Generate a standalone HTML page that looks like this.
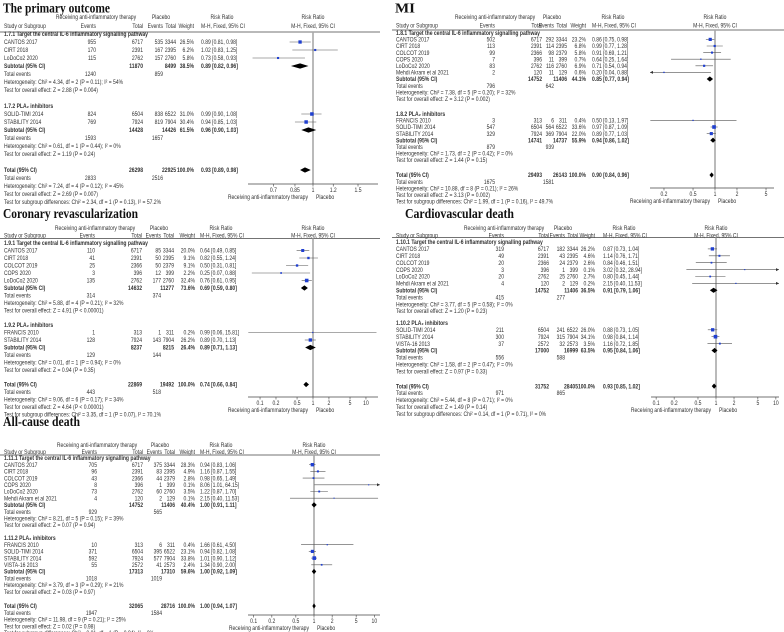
<!DOCTYPE html>
<html><head><meta charset="utf-8">
<style>
html,body{margin:0;padding:0;background:#fff;}
svg{display:block;}
text{font-family:"Liberation Sans",sans-serif;fill:#333;}
.ttl{font-family:"Liberation Serif",serif;font-weight:bold;fill:#111;}
</style></head>
<body>
<svg id="fig" width="784" height="632" viewBox="0 0 784 632" xmlns="http://www.w3.org/2000/svg"></svg>
<script>
// ===== Primary outcome =====
const P1_groups=["1.7.1 Target the central IL-6 inflammatory signalling pathway","1.7.2 PLA₂ inhibitors"];
const P1_names=["CANTOS 2017","CIRT 2018","LoDoCo2 2020","SOLID-TIMI 2014","STABILITY 2014"];
const P1_grp=[0,0,0,1,1];
const P1_evT=[955,170,115,824,769];
const P1_nT=[6717,2391,2762,6504,7924];
const P1_evC=[535,167,157,838,819];
const P1_nC=[3344,2395,2760,6522,7904];
const P1_w=[26.5,6.2,5.8,31.0,30.4];
const P1_rr=[0.89,1.02,0.73,0.99,0.94];
const P1_lo=[0.81,0.83,0.58,0.90,0.85];
const P1_hi=[0.98,1.25,0.93,1.08,1.03];
const P1_sumNT=[11870,14428,26298];
const P1_sumNC=[8499,14426,22925];
const P1_sumEvT=[1240,1593,2833];
const P1_sumEvC=[859,1657,2516];
const P1_sumW=[38.5,61.5,100.0];
const P1_sumRR=[0.89,0.96,0.93];
const P1_sumLo=[0.82,0.90,0.89];
const P1_sumHi=[0.96,1.03,0.98];
const P1_het=["Chi² = 4.34, df = 2 (P = 0.11); I² = 54%","Chi² = 0.61, df = 1 (P = 0.44); I² = 0%","Chi² = 7.24, df = 4 (P = 0.12); I² = 45%"];
const P1_z=["Z = 2.88 (P = 0.004)","Z = 1.19 (P = 0.24)","Z = 2.69 (P = 0.007)"];
const P1_tsd="Chi² = 2.34, df = 1 (P = 0.13), I² = 57.2%";
const P1_ticks=["0.7","0.85","1","1.2","1.5"];

// ===== MI =====
const P2_groups=["1.8.1 Target the central IL-6 inflammatory signalling pathway","1.8.2 PLA₂ inhibitors"];
const P2_names=["CANTOS 2017","CIRT 2018","COLCOT 2019","COPS 2020","LoDoCo2 2020","Mehdi Akram et al 2021","FRANCIS 2010","SOLID-TIMI 2014","STABILITY 2014"];
const P2_grp=[0,0,0,0,0,0,1,1,1];
const P2_evT=[502,113,99,7,83,2,3,547,329];
const P2_nT=[6717,2391,2366,396,2762,120,313,6504,7924];
const P2_evC=[292,114,98,11,116,11,6,564,369];
const P2_nC=[3344,2395,2379,399,2760,129,311,6522,7904];
const P2_w=[23.2,6.8,5.8,0.7,6.9,0.6,0.4,33.6,22.0];
const P2_rr=[0.86,0.99,0.91,0.64,0.71,0.20,0.50,0.97,0.89];
const P2_lo=[0.75,0.77,0.69,0.25,0.54,0.04,0.13,0.87,0.77];
const P2_hi=[0.98,1.28,1.21,1.64,0.94,0.88,1.97,1.09,1.03];
const P2_sumNT=[14752,14741,29493];
const P2_sumNC=[11406,14737,26143];
const P2_sumEvT=[796,879,1675];
const P2_sumEvC=[642,939,1581];
const P2_sumW=[44.1,55.9,100.0];
const P2_sumRR=[0.85,0.94,0.90];
const P2_sumLo=[0.77,0.86,0.84];
const P2_sumHi=[0.94,1.02,0.96];
const P2_het=["Chi² = 7.38, df = 5 (P = 0.20); I² = 32%","Chi² = 1.73, df = 2 (P = 0.42); I² = 0%","Chi² = 10.88, df = 8 (P = 0.21); I² = 26%"];
const P2_z=["Z = 3.12 (P = 0.002)","Z = 1.44 (P = 0.15)","Z = 3.13 (P = 0.002)"];
const P2_tsd="Chi² = 1.99, df = 1 (P = 0.16), I² = 49.7%";
const P2_ticks=["0.2","0.5","1","2","5"];

// ===== Coronary revascularization =====
const P3_groups=["1.9.1 Target the central IL-6 inflammatory signalling pathway","1.9.2 PLA₂ inhibitors"];
const P3_names=["CANTOS 2017","CIRT 2018","COLCOT 2019","COPS 2020","LoDoCo2 2020","FRANCIS 2010","STABILITY 2014"];
const P3_grp=[0,0,0,0,0,1,1];
const P3_evT=[110,41,25,3,135,1,128];
const P3_nT=[6717,2391,2366,396,2762,313,7924];
const P3_evC=[85,50,50,12,177,1,143];
const P3_nC=[3344,2395,2379,399,2760,311,7904];
const P3_w=[20.0,9.1,9.1,2.2,32.4,0.2,26.2];
const P3_rr=[0.64,0.82,0.50,0.25,0.76,0.99,0.89];
const P3_lo=[0.49,0.55,0.31,0.07,0.61,0.06,0.70];
const P3_hi=[0.85,1.24,0.81,0.88,0.95,15.81,1.13];
const P3_sumNT=[14632,8237,22869];
const P3_sumNC=[11277,8215,19492];
const P3_sumEvT=[314,129,443];
const P3_sumEvC=[374,144,518];
const P3_sumW=[73.6,26.4,100.0];
const P3_sumRR=[0.69,0.89,0.74];
const P3_sumLo=[0.59,0.71,0.66];
const P3_sumHi=[0.80,1.13,0.84];
const P3_het=["Chi² = 5.88, df = 4 (P = 0.21); I² = 32%","Chi² = 0.01, df = 1 (P = 0.94); I² = 0%","Chi² = 9.06, df = 6 (P = 0.17); I² = 34%"];
const P3_z=["Z = 4.91 (P < 0.00001)","Z = 0.94 (P = 0.35)","Z = 4.64 (P < 0.00001)"];
const P3_tsd="Chi² = 3.35, df = 1 (P = 0.07), I² = 70.1%";
const P3_ticks=["0.1","0.2","0.5","1","2","5","10"];

// ===== Cardiovascular death =====
const P4_groups=["1.10.1 Target the central IL-6 inflammatory signalling pathway","1.10.2 PLA₂ inhibitors"];
const P4_names=["CANTOS 2017","CIRT 2018","COLCOT 2019","COPS 2020","LoDoCo2 2020","Mehdi Akram et al 2021","SOLID-TIMI 2014","STABILITY 2014","VISTA-16 2013"];
const P4_grp=[0,0,0,0,0,0,1,1,1];
const P4_evT=[319,49,20,3,20,4,211,300,37];
const P4_nT=[6717,2391,2366,396,2762,120,6504,7924,2572];
const P4_evC=[182,43,24,1,25,2,241,315,32];
const P4_nC=[3344,2395,2379,399,2760,129,6522,7904,2573];
const P4_w=[26.2,4.6,2.6,0.1,2.7,0.2,26.0,34.1,3.5];
const P4_rr=[0.87,1.14,0.84,3.02,0.80,2.15,0.88,0.98,1.16];
const P4_lo=[0.73,0.76,0.46,0.32,0.45,0.40,0.73,0.84,0.72];
const P4_hi=[1.04,1.71,1.51,28.94,1.44,11.53,1.05,1.14,1.85];
const P4_sumNT=[14752,17000,31752];
const P4_sumNC=[11406,16999,28405];
const P4_sumEvT=[415,556,971];
const P4_sumEvC=[277,588,865];
const P4_sumW=[36.5,63.5,100.0];
const P4_sumRR=[0.91,0.95,0.93];
const P4_sumLo=[0.79,0.84,0.85];
const P4_sumHi=[1.06,1.06,1.02];
const P4_het=["Chi² = 3.77, df = 5 (P = 0.58); I² = 0%","Chi² = 1.58, df = 2 (P = 0.47); I² = 0%","Chi² = 5.44, df = 8 (P = 0.71); I² = 0%"];
const P4_z=["Z = 1.20 (P = 0.23)","Z = 0.97 (P = 0.33)","Z = 1.49 (P = 0.14)"];
const P4_tsd="Chi² = 0.14, df = 1 (P = 0.71), I² = 0%";
const P4_ticks=["0.1","0.2","0.5","1","2","5","10"];

// ===== All-cause death =====
const P5_groups=["1.11.1 Target the central IL-6 inflammatory signalling pathway","1.11.2 PLA₂ inhibitors"];
const P5_names=["CANTOS 2017","CIRT 2018","COLCOT 2019","COPS 2020","LoDoCo2 2020","Mehdi Akram et al 2021","FRANCIS 2010","SOLID-TIMI 2014","STABILITY 2014","VISTA-16 2013"];
const P5_grp=[0,0,0,0,0,0,1,1,1,1];
const P5_evT=[705,96,43,8,73,4,10,371,592,55];
const P5_nT=[6717,2391,2366,396,2762,120,313,6504,7924,2572];
const P5_evC=[375,83,44,1,60,2,6,395,577,41];
const P5_nC=[3344,2395,2379,399,2760,129,311,6522,7904,2573];
const P5_w=[28.3,4.9,2.8,0.1,3.5,0.1,0.4,23.1,33.8,2.4];
const P5_rr=[0.94,1.16,0.98,8.06,1.22,2.15,1.66,0.94,1.01,1.34];
const P5_lo=[0.83,0.87,0.65,1.01,0.87,0.40,0.61,0.82,0.90,0.90];
const P5_hi=[1.06,1.55,1.49,64.15,1.70,11.53,4.50,1.08,1.12,2.00];
const P5_sumNT=[14752,17313,32065];
const P5_sumNC=[11406,17310,28716];
const P5_sumEvT=[929,1018,1947];
const P5_sumEvC=[565,1019,1584];
const P5_sumW=[40.4,59.6,100.0];
const P5_sumRR=[1.00,1.00,1.00];
const P5_sumLo=[0.91,0.92,0.94];
const P5_sumHi=[1.11,1.09,1.07];
const P5_het=["Chi² = 8.21, df = 5 (P = 0.15); I² = 39%","Chi² = 3.79, df = 3 (P = 0.29); I² = 21%","Chi² = 11.98, df = 9 (P = 0.21); I² = 25%"];
const P5_z=["Z = 0.07 (P = 0.94)","Z = 0.03 (P = 0.97)","Z = 0.02 (P = 0.98)"];
const P5_tsd="Chi² = 0.01, df = 1 (P = 0.94), I² = 0%";
const P5_ticks=["0.1","0.2","0.5","1","2","5","10"];

const NS="http://www.w3.org/2000/svg";
const svg=document.getElementById('fig');
function mk(tag,attrs,parent){const e=document.createElementNS(NS,tag);for(const k in attrs)e.setAttribute(k,attrs[k]);(parent||svg).appendChild(e);return e;}
function tx(g,x,y,s,anchor,bold,name){
  const e=mk('text',{transform:`translate(${x},${(y+2.2).toFixed(2)}) scale(0.8,1)`,'font-size':'6.3','text-anchor':anchor||'start'},g);
  if(bold)e.setAttribute('font-weight','bold');
  e.textContent=s;
  
  
  return e;
}
function f2(v){return v.toFixed(2);}
function ci(r,l,h){return f2(r)+" ["+f2(l)+", "+f2(h)+"]";}

function render(D,L,pname){
  const g=mk('g',{});
  
  
  const t=mk('text',{x:L.tx,y:L.ty,class:'ttl','font-size':'14',textLength:L.tw,lengthAdjust:'spacingAndGlyphs'},g);
  t.textContent=L.title;
  
  
  const C=L.cols;
  const xs=v=>L.xref+Math.log(v)*L.k;
  tx(g,C.evT,L.h1,"Receiving anti-inflammatory therapy",'middle',false,'header-treatment');
  tx(g,C.evC-2,L.h1,"Placebo",'middle',false,'header-placebo');
  tx(g,C.rr+21,L.h1,"Risk Ratio",'middle',false,'header-risk-ratio');
  tx(g,L.xref,L.h1,"Risk Ratio",'middle',false,'plot-header-risk-ratio');
  tx(g,C.st,L.h2,"Study or Subgroup",'start',false,'header-study');
  tx(g,C.evT,L.h2,"Events",'end'); tx(g,C.nT,L.h2,"Total",'end');
  tx(g,C.evC,L.h2,"Events",'end'); tx(g,C.nC,L.h2,"Total",'end');
  tx(g,C.w,L.h2,"Weight",'end'); tx(g,C.rr,L.h2,"M-H, Fixed, 95% CI",'start');
  tx(g,L.xref,L.h2,"M-H, Fixed, 95% CI",'middle');
  mk('line',{x1:L.lx1,x2:L.lx2,y1:L.line,y2:L.line,stroke:'#444','stroke-width':0.8},g);
  const ref=mk('line',{x1:L.xref,x2:L.xref,y1:L.line,y2:L.axisY,stroke:'#a8a8a8','stroke-width':1.6},g);
  
  
  const xmin=L.x1, xmax=L.x2;
  function studyMark(y,r,l,h,w){
    let a=xs(l),b=xs(h);
    const ca=Math.max(a,xmin),cb=Math.min(b,xmax);
    const ln=mk('line',{x1:ca,x2:cb,y1:y,y2:y,stroke:'#555','stroke-width':0.6},g);
    
    
    if(a<xmin) mk('polygon',{points:`${xmin},${y} ${xmin+3},${y-1.5} ${xmin+3},${y+1.5}`,fill:'#333'},g);
    if(b>xmax) mk('polygon',{points:`${xmax},${y} ${xmax-3},${y-1.5} ${xmax-3},${y+1.5}`,fill:'#333'},g);
    const s=1+Math.sqrt(w)*0.45, cx=xs(r);
    if(cx>=xmin&&cx<=xmax){
      const sq=mk('rect',{x:cx-s/2,y:y-s/2,width:s,height:s,fill:'#1f3fd0'},g);
      
      
    }
  }
  function diamond(y,r,l,h){
    const d=mk('polygon',{points:`${xs(l)},${y} ${xs(r)},${y-2.6} ${xs(h)},${y} ${xs(r)},${y+2.6}`,fill:'#000'},g);
    
    
  }
  let y=L.y0;
  for(let gi=0;gi<2;gi++){
    tx(g,C.st,y,D.groups[gi],'start',true,'subgroup-title'); y+=L.dy;
    for(let i=0;i<D.names.length;i++){ if(D.grp[i]!==gi)continue;
      tx(g,C.st,y,D.names[i],'start',false,'study-name');
      tx(g,C.evT,y,String(D.evT[i]),'end'); tx(g,C.nT,y,String(D.nT[i]),'end');
      tx(g,C.evC,y,String(D.evC[i]),'end'); tx(g,C.nC,y,String(D.nC[i]),'end');
      tx(g,C.w,y,D.w[i].toFixed(1)+"%",'end'); tx(g,C.rr,y,ci(D.rr[i],D.lo[i],D.hi[i]),'start');
      studyMark(y,D.rr[i],D.lo[i],D.hi[i],D.w[i]);
      y+=L.dy;
    }
    tx(g,C.st,y,"Subtotal (95% CI)",'start',true,'subtotal-label');
    tx(g,C.nT,y,String(D.sumNT[gi]),'end',true); tx(g,C.nC,y,String(D.sumNC[gi]),'end',true);
    tx(g,C.w,y,D.sumW[gi].toFixed(1)+"%",'end',true); tx(g,C.rr,y,ci(D.sumRR[gi],D.sumLo[gi],D.sumHi[gi]),'start',true);
    diamond(y,D.sumRR[gi],D.sumLo[gi],D.sumHi[gi]); y+=L.dy;
    tx(g,C.st,y,"Total events"); tx(g,C.evT,y,String(D.sumEvT[gi]),'end'); tx(g,C.evC,y,String(D.sumEvC[gi]),'end'); y+=L.dy;
    tx(g,C.st,y,"Heterogeneity: "+D.het[gi]); y+=L.dy;
    tx(g,C.st,y,"Test for overall effect: "+D.z[gi]); y+=L.dy;
    y+=L.blank[gi];
  }
  tx(g,C.st,y,"Total (95% CI)",'start',true,'total-label');
  tx(g,C.nT,y,String(D.sumNT[2]),'end',true); tx(g,C.nC,y,String(D.sumNC[2]),'end',true);
  tx(g,C.w,y,D.sumW[2].toFixed(1)+"%",'end',true); tx(g,C.rr,y,ci(D.sumRR[2],D.sumLo[2],D.sumHi[2]),'start',true);
  diamond(y,D.sumRR[2],D.sumLo[2],D.sumHi[2]); y+=L.dy;
  tx(g,C.st,y,"Total events"); tx(g,C.evT,y,String(D.sumEvT[2]),'end'); tx(g,C.evC,y,String(D.sumEvC[2]),'end'); y+=L.dy;
  tx(g,C.st,y,"Heterogeneity: "+D.het[2]); y+=L.dy;
  tx(g,C.st,y,"Test for overall effect: "+D.z[2]); y+=L.dy;
  tx(g,C.st,y,"Test for subgroup differences: "+D.tsd);
  const ax=mk('line',{x1:L.x1,x2:L.x2,y1:L.axisY,y2:L.axisY,stroke:'#444','stroke-width':0.7},g);
  
  
  D.ticks.forEach(tk=>{const x=xs(parseFloat(tk));
    mk('line',{x1:x,x2:x,y1:L.axisY,y2:L.axisY+2.5,stroke:'#444','stroke-width':0.6},g);
    tx(g,x,L.axisY+6,tk,'middle',false,'x-tick-label');});
  tx(g,L.xref-5,L.axisY+13,"Receiving anti-inflammatory therapy",'end',false,'axis-caption-left');
  tx(g,L.xref+3,L.axisY+13,"Placebo",'start',false,'axis-caption-right');
}

function pd(p){return {groups:p[0],names:p[1],grp:p[2],evT:p[3],nT:p[4],evC:p[5],nC:p[6],w:p[7],rr:p[8],lo:p[9],hi:p[10],
  sumNT:p[11],sumNC:p[12],sumEvT:p[13],sumEvC:p[14],sumW:p[15],sumRR:p[16],sumLo:p[17],sumHi:p[18],het:p[19],z:p[20],tsd:p[21],ticks:p[22]};}

render(pd([P1_groups,P1_names,P1_grp,P1_evT,P1_nT,P1_evC,P1_nC,P1_w,P1_rr,P1_lo,P1_hi,P1_sumNT,P1_sumNC,P1_sumEvT,P1_sumEvC,P1_sumW,P1_sumRR,P1_sumLo,P1_sumHi,P1_het,P1_z,P1_tsd,P1_ticks]),
 {title:"The primary outcome",tx:3,ty:12.5,tw:107,h1:17,h2:26,line:32,y0:34,dy:8,blank:[8,8],
  cols:{st:4,evT:96,nT:143,evC:163,nC:176,w:194,rr:201},x1:248,x2:378,xref:313,k:111,axisY:184,lx1:0,lx2:380},'panel-primary-outcome');

render(pd([P2_groups,P2_names,P2_grp,P2_evT,P2_nT,P2_evC,P2_nC,P2_w,P2_rr,P2_lo,P2_hi,P2_sumNT,P2_sumNC,P2_sumEvT,P2_sumEvC,P2_sumW,P2_sumRR,P2_sumLo,P2_sumHi,P2_het,P2_z,P2_tsd,P2_ticks]),
 {title:"MI",tx:395,ty:12.5,tw:20,h1:17,h2:25.5,line:30,y0:32.8,dy:6.6,blank:[8.4,8.4],
  cols:{st:396,evT:495,nT:542,evC:554,nC:567,w:586,rr:592},x1:650,x2:774,xref:715,k:31.7,axisY:188,lx1:392,lx2:784},'panel-mi');

render(pd([P3_groups,P3_names,P3_grp,P3_evT,P3_nT,P3_evC,P3_nC,P3_w,P3_rr,P3_lo,P3_hi,P3_sumNT,P3_sumNC,P3_sumEvT,P3_sumEvC,P3_sumW,P3_sumRR,P3_sumLo,P3_sumHi,P3_het,P3_z,P3_tsd,P3_ticks]),
 {title:"Coronary revascularization",tx:3,ty:218,tw:135,h1:228,h2:235.5,line:238.5,y0:243,dy:7.5,blank:[7,7],
  cols:{st:4,evT:95,nT:142,evC:161,nC:174,w:195,rr:200},x1:248,x2:378,xref:313,k:23,axisY:397,lx1:0,lx2:380},'panel-coronary-revascularization');

render(pd([P4_groups,P4_names,P4_grp,P4_evT,P4_nT,P4_evC,P4_nC,P4_w,P4_rr,P4_lo,P4_hi,P4_sumNT,P4_sumNC,P4_sumEvT,P4_sumEvC,P4_sumW,P4_sumRR,P4_sumLo,P4_sumHi,P4_het,P4_z,P4_tsd,P4_ticks]),
 {title:"Cardiovascular death",tx:405,ty:218,tw:109,h1:228,h2:235.5,line:237.5,y0:242,dy:6.9,blank:[5,8],
  cols:{st:396,evT:504,nT:549,evC:565,nC:578,w:595,rr:603},x1:651,x2:779,xref:716,k:26,axisY:397,lx1:392,lx2:784},'panel-cardiovascular-death');

render(pd([P5_groups,P5_names,P5_grp,P5_evT,P5_nT,P5_evC,P5_nC,P5_w,P5_rr,P5_lo,P5_hi,P5_sumNT,P5_sumNC,P5_sumEvT,P5_sumEvC,P5_sumW,P5_sumRR,P5_sumLo,P5_sumHi,P5_het,P5_z,P5_tsd,P5_ticks]),
 {title:"All-cause death",tx:3,ty:426,tw:77,h1:445,h2:452,line:455,y0:458,dy:6.7,blank:[6.3,7.7],
  cols:{st:4,evT:97,nT:143,evC:162,nC:175,w:195,rr:200},x1:248,x2:380,xref:314,k:26.2,axisY:615,lx1:0,lx2:380},'panel-all-cause-death');
</script>
</body></html>
